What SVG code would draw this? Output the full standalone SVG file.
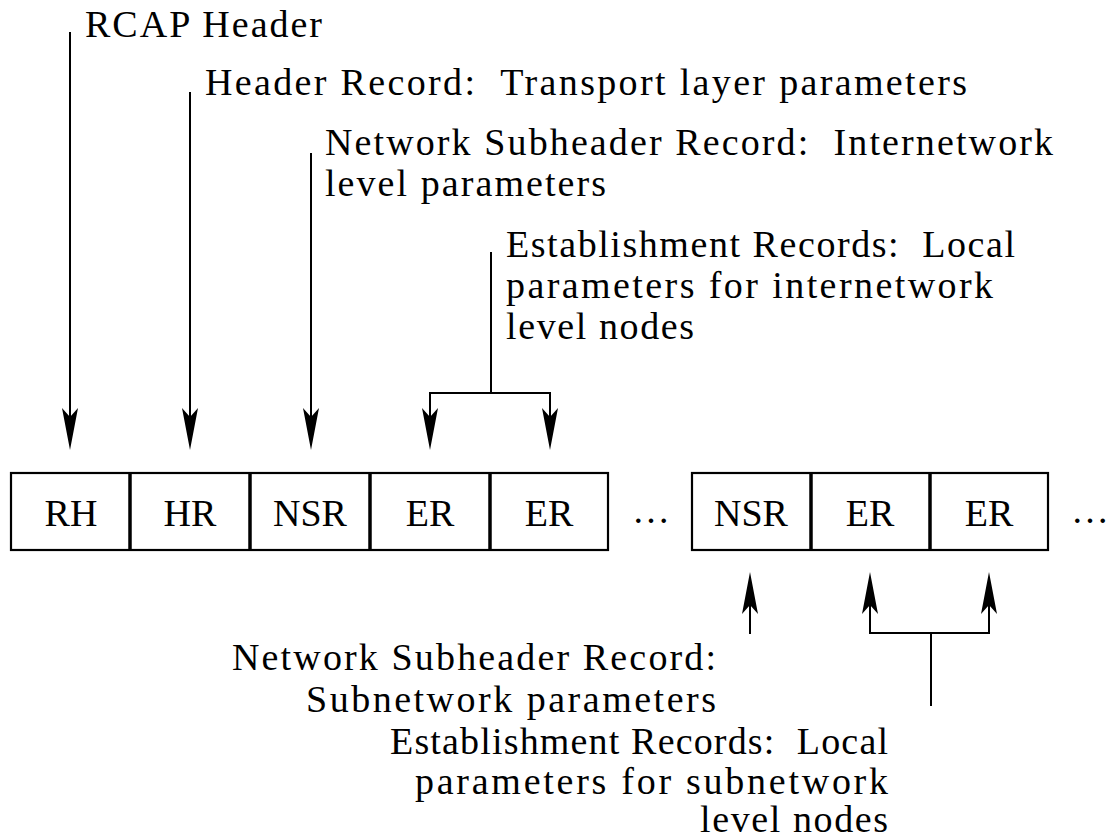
<svg xmlns="http://www.w3.org/2000/svg" width="1113" height="838" viewBox="0 0 1113 838">
<style>
text{font-family:'Liberation Serif','DejaVu Serif','Noto Serif','Tinos','Nimbus Roman','FreeSerif','Times New Roman',Times,serif;font-size:38px;fill:#000}
.c{text-anchor:middle}
.e{text-anchor:end}
.box{fill:#fff;stroke:#000;stroke-width:2.2}
.div{stroke:#000;stroke-width:3.5}
.ln{fill:none;stroke:#000;stroke-width:2}
.arr{marker-end:url(#ah)}
</style>
<defs>
<marker id="ah" markerUnits="userSpaceOnUse" viewBox="-24 -10 46 20" markerWidth="46" markerHeight="20" refX="0" refY="0" orient="auto" overflow="visible">
<path d="M20,0 L-22,-8 L-13,0 L-22,8 Z" fill="#000"/>
</marker>
</defs>
<rect width="1113" height="838" fill="#fff"/>

<g id="labels-top">
<text x="85" y="37" textLength="237">RCAP Header</text>
<text x="205" y="95" textLength="762">Header Record:&#160; Transport layer parameters</text>
<text x="325" y="155" textLength="728">Network Subheader Record:&#160; Internetwork</text>
<text x="325" y="196" textLength="281">level parameters</text>
<text x="506" y="257" textLength="509">Establishment Records:&#160; Local</text>
<text x="506" y="298" textLength="487">parameters for internetwork</text>
<text x="506" y="339" textLength="188">level nodes</text>
</g>

<g id="row1">
<rect class="box" x="11" y="473" width="597" height="77"/>
<line class="div" x1="130" y1="473" x2="130" y2="550"/>
<line class="div" x1="250" y1="473" x2="250" y2="550"/>
<line class="div" x1="370" y1="473" x2="370" y2="550"/>
<line class="div" x1="490" y1="473" x2="490" y2="550"/>
</g>
<g id="node-RH"><text class="c" x="71" y="526">RH</text></g>
<g id="node-HR"><text class="c" x="190" y="526">HR</text></g>
<g id="node-NSR1"><text class="c" x="310" y="526">NSR</text></g>
<g id="node-ER1"><text class="c" x="430" y="526">ER</text></g>
<g id="node-ER2"><text class="c" x="549" y="526">ER</text></g>
<g id="dots1"><text class="c" x="651" y="523">…</text></g>

<g id="row2">
<rect class="box" x="692" y="473" width="356" height="77"/>
<line class="div" x1="811" y1="473" x2="811" y2="550"/>
<line class="div" x1="930" y1="473" x2="930" y2="550"/>
</g>
<g id="node-NSR2"><text class="c" x="751" y="526">NSR</text></g>
<g id="node-ER3"><text class="c" x="870" y="526">ER</text></g>
<g id="node-ER4"><text class="c" x="989" y="526">ER</text></g>
<g id="dots2"><text class="c" x="1090" y="523">…</text></g>

<g id="connectors">
<line class="ln arr" x1="70" y1="32" x2="70" y2="430"/>
<line class="ln arr" x1="190" y1="92" x2="190" y2="430"/>
<line class="ln arr" x1="311" y1="153" x2="311" y2="430"/>
<line class="ln" x1="491" y1="252" x2="491" y2="393"/>
<polyline class="ln arr" points="491,393 430,393 430,430"/>
<polyline class="ln arr" points="491,393 550,393 550,430"/>
<line class="ln arr" x1="750" y1="634" x2="750" y2="592"/>
<line class="ln" x1="931" y1="633" x2="931" y2="706"/>
<polyline class="ln arr" points="931,633 870,633 870,592"/>
<polyline class="ln arr" points="931,633 989,633 989,592"/>
</g>

<g id="labels-bottom">
<text class="e" x="716" y="670" textLength="484">Network Subheader Record:</text>
<text class="e" x="716" y="712" textLength="410">Subnetwork parameters</text>
<text class="e" x="888" y="754" textLength="498">Establishment Records:&#160; Local</text>
<text class="e" x="888" y="794" textLength="473">parameters for subnetwork</text>
<text class="e" x="888" y="832" textLength="188">level nodes</text>
</g>
</svg>
